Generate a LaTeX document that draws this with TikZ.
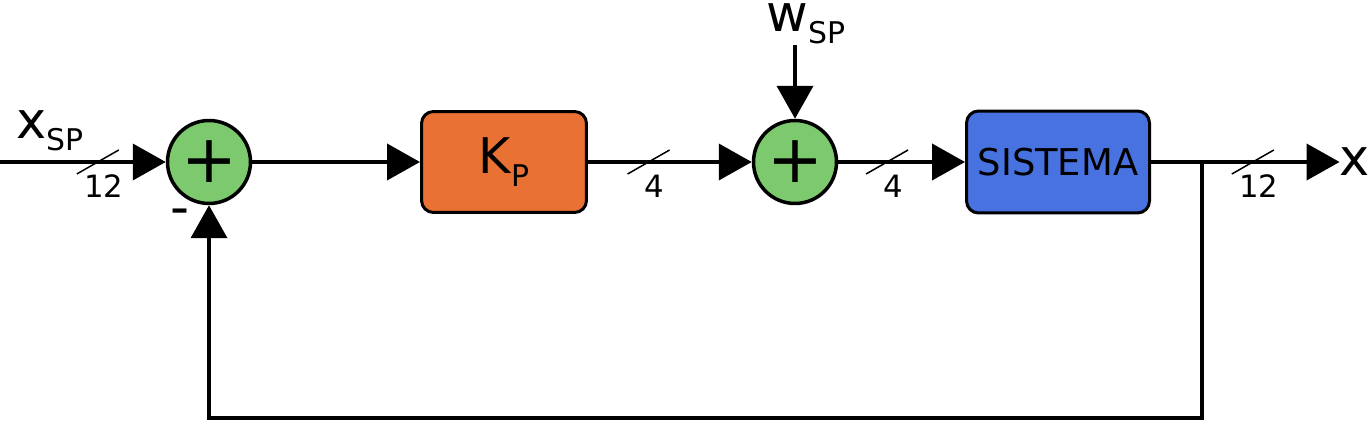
\documentclass[tikz,border=0pt]{standalone}
\usepackage{fontspec}
\setmainfont{DejaVu Sans}
\usetikzlibrary{arrows.meta, calc}
\definecolor{sumgreen}{HTML}{7DC96E}
\definecolor{gainorange}{HTML}{E87133}
\definecolor{plantblue}{HTML}{4872E0}
\newcommand{\lowsub}[1]{\raisebox{-7pt}{\fontsize{17}{17}\selectfont #1}}
\tikzstyle{sum} = [circle, draw=black, line width=0.07cm, fill=sumgreen, minimum size=1.66cm, inner sep=0pt, font=\fontsize{38}{38}\selectfont]
\tikzstyle{gain} = [rectangle, rounded corners=0.24cm, minimum width=3.3cm, minimum height=2.02cm, text centered, draw=black, line width=0.06cm, fill=gainorange, font=\fontsize{28}{28}\selectfont]
\tikzstyle{plant} = [rectangle, rounded corners=0.24cm, minimum width=3.66cm, minimum height=2.04cm, text centered, draw=black, line width=0.06cm, fill=plantblue, font=\fontsize{21}{21}\selectfont]
\tikzstyle{signal} = [inner sep=0pt, font=\fontsize{29}{29}\selectfont]
\tikzstyle{arrow} = [line width=0.08cm, -{Triangle[length=0.66cm, width=0.72cm]}]
\tikzstyle{bus} = [line width=0.03cm]
\tikzstyle{buslabel} = [inner sep=0pt, font=\fontsize{17.5}{17.5}\selectfont]
\begin{document}
\begin{tikzpicture}[x=0.02cm, y=-0.02cm]
	\useasboundingbox (0,0) rectangle (1371,422);
	\node (sum1) [sum] at (209,162) {+};
	\node (kp) [gain] at (504,162) {K\lowsub{P}};
	\node (sum2) [sum] at (795,162) {+};
	\node (sys) [plant] at (1058,162) {SISTEMA};
	\node (xsp) [signal] at (50,131) {x\lowsub{SP}};
	\node (wsp) [signal] at (806,24) {w\lowsub{SP}};
	\node (xout) [signal] at (1355,162) {x};
	\node (minus) [signal, font=\fontsize{30}{30}\selectfont] at (180,217) {-};
	\coordinate (in) at (0,162);
	\coordinate (wtop) at (795,45);
	\coordinate (branch) at (1202,162);
	\coordinate (fb) at (209,418);
	\draw [arrow] (in) -- coordinate[pos=0.59] (m1) (sum1);
	\draw [arrow] (sum1) -- (kp);
	\draw [arrow] (kp) -- coordinate[pos=0.37] (m2) (sum2);
	\draw [arrow] (wtop) -- (sum2);
	\draw [arrow] (sum2) -- coordinate[pos=0.385] (m3) (sys);
	\draw [arrow] (sys.east) -- coordinate[pos=0.54] (m4) (sys.east -| xout.west);
	\draw [arrow] (branch) |- (fb) -- (sum1.south);
	% bus width marks
	\foreach \m/\w in {m1/12, m2/4, m3/4, m4/12} {
		\draw [bus] ($(\m)+(-21,12)$) -- ($(\m)+(21,-12)$);
		\node [buslabel] at ($(\m)+(6,24)$) {\w};
	}
\end{tikzpicture}
\end{document}
